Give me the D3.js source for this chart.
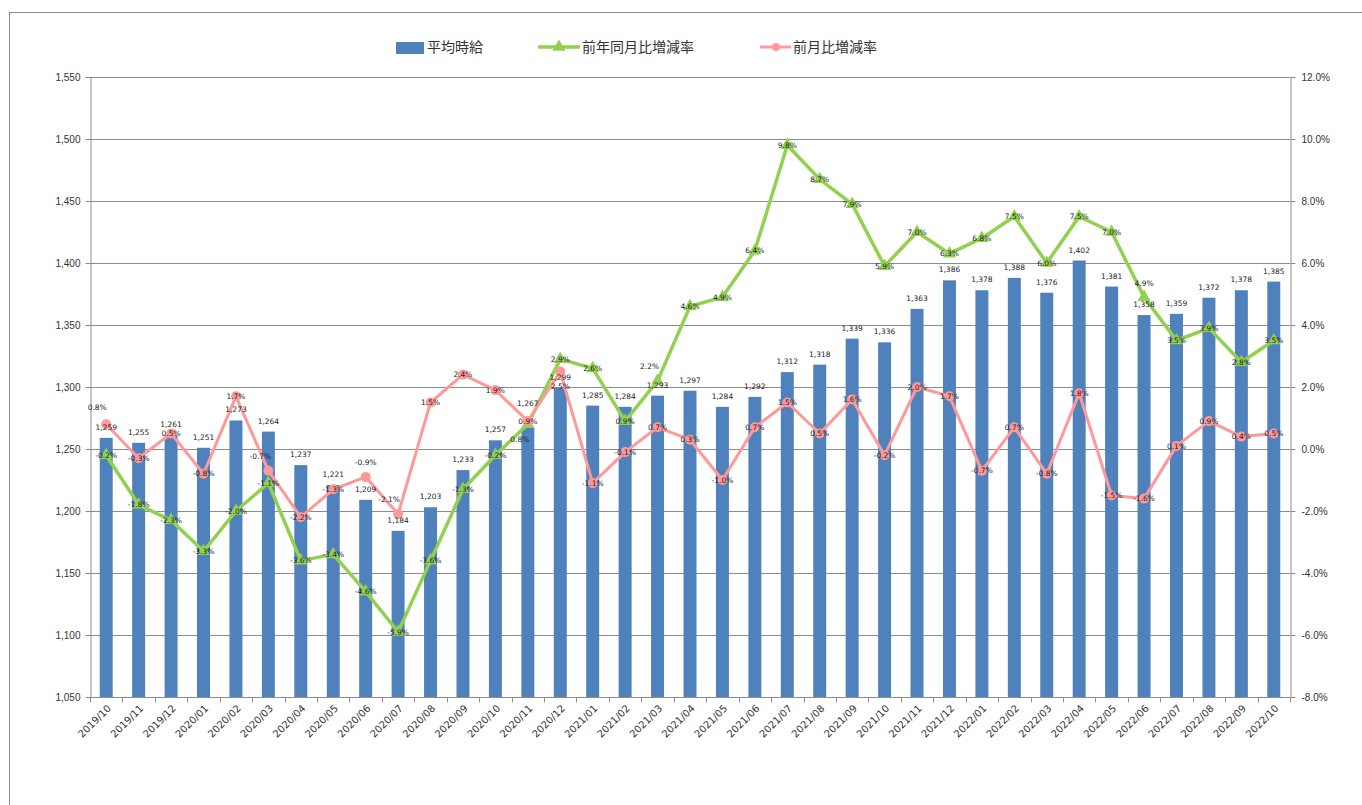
<!DOCTYPE html>
<html>
<head>
<meta charset="utf-8">
<script src="https://cdn.jsdelivr.net/npm/d3@7"></script>
<style>
  body { margin: 0; background: #fff; }
  svg { display: block; font-family: "DejaVu Sans", sans-serif; }
  .axis path, .axis line { stroke: #8c8c8c; }
  .axis text { fill: #333; font-size: 10px; }
</style>
</head>
<body>
<script>
// months (x categories)
var months = ["2019/10", "2019/11", "2019/12", "2020/01", "2020/02", "2020/03", "2020/04", "2020/05", "2020/06",
    "2020/07", "2020/08", "2020/09", "2020/10", "2020/11", "2020/12", "2021/01", "2021/02", "2021/03", "2021/04",
    "2021/05", "2021/06", "2021/07", "2021/08", "2021/09", "2021/10", "2021/11", "2021/12", "2022/01", "2022/02",
    "2022/03", "2022/04", "2022/05", "2022/06", "2022/07", "2022/08", "2022/09", "2022/10"];

// 平均時給 (left axis)
var wage = [1259, 1255, 1261, 1251, 1273, 1264, 1237, 1221, 1209, 1184, 1203, 1233, 1257, 1267, 1299, 1285, 1284,
    1293, 1297, 1284, 1292, 1312, 1318, 1339, 1336, 1363, 1386, 1378, 1388, 1376, 1402, 1381, 1358, 1359, 1372,
    1378, 1385];

// 前年同月比増減率 (%)
var yoy = [-0.2, -1.8, -2.3, -3.3, -2.0, -1.1, -3.6, -3.4, -4.6, -5.9, -3.6, -1.3, -0.2, 0.8, 2.9, 2.6, 0.9, 2.2,
    4.6, 4.9, 6.4, 9.8, 8.7, 7.9, 5.9, 7.0, 6.3, 6.8, 7.5, 6.0, 7.5, 7.0, 4.9, 3.5, 3.9, 2.8, 3.5];

// 前月比増減率 (%)
var mom = [0.8, -0.3, 0.5, -0.8, 1.7, -0.7, -2.2, -1.3, -0.9, -2.1, 1.5, 2.4, 1.9, 0.9, 2.5, -1.1, -0.1, 0.7, 0.3,
    -1.0, 0.7, 1.5, 0.5, 1.6, -0.2, 2.0, 1.7, -0.7, 0.7, -0.8, 1.8, -1.5, -1.6, 0.1, 0.9, 0.4, 0.5];

// tick values
var leftTicks = [1050, 1100, 1150, 1200, 1250, 1300, 1350, 1400, 1450, 1500, 1550];
var rightTicks = [-8, -6, -4, -2, 0, 2, 4, 6, 8, 10, 12];

// labels that were moved by hand in the original (dx, dy)
var wageLabelShift = { "2020/11": [0, -14] };
var yoyLabelShift = { "2020/11": [-8, 15], "2021/03": [-8, -14], "2022/06": [0, -14] };
var momLabelShift = { "2019/10": [-9, -17], "2020/03": [-8, -14], "2020/06": [0, -15], "2020/07": [-9, -15], "2020/12": [0, 15] };

var margin = { top: 77, right: 72, bottom: 108, left: 90 },
    width = 1362 - margin.left - margin.right,
    height = 805 - margin.top - margin.bottom;

var svg = d3.select("body").append("svg")
    .attr("width", 1362)
    .attr("height", 805);

// chart frame (cut off at right and bottom)
svg.append("rect")
    .attr("x", 9.5).attr("y", 12.5)
    .attr("width", 1400).attr("height", 900)
    .attr("fill", "none").attr("stroke", "#8c8c8c");

var g = svg.append("g")
    .attr("transform", "translate(" + margin.left + "," + margin.top + ")");

var x = d3.scaleBand()
    .domain(months)
    .range([0, width])
    .paddingInner(0.6)
    .paddingOuter(0.3);

var y = d3.scaleLinear().domain([1050, 1550]).range([height, 0]);
var y2 = d3.scaleLinear().domain([-8, 12]).range([height, 0]);

var cx = function (d) { return x(d) + x.bandwidth() / 2; };

// gridlines
g.append("g")
    .selectAll("line")
    .data(leftTicks.slice(1))
    .enter().append("line")
    .attr("x1", 0).attr("x2", width)
    .attr("y1", function (d) { return Math.round(y(d)) + 0.5; })
    .attr("y2", function (d) { return Math.round(y(d)) + 0.5; })
    .attr("stroke", "#8c8c8c");

// bars
g.append("g")
    .selectAll("rect")
    .data(months)
    .enter().append("rect")
    .attr("x", function (d) { return x(d); })
    .attr("y", function (d, i) { return y(wage[i]); })
    .attr("width", x.bandwidth())
    .attr("height", function (d, i) { return height - y(wage[i]); })
    .attr("fill", "#4f81bd");

// axes
g.append("g")
    .attr("class", "axis")
    .attr("transform", "translate(0.5,0)")
    .call(d3.axisLeft(y).tickValues(leftTicks).tickSize(5).tickSizeOuter(0).tickPadding(5)
        .tickFormat(d3.format(",")));

g.append("g")
    .attr("class", "axis")
    .attr("transform", "translate(" + (width + 0.5) + ",0)")
    .call(d3.axisRight(y2).tickValues(rightTicks).tickSize(5).tickSizeOuter(0).tickPadding(6)
        .tickFormat(function (d) { return d.toFixed(1) + "%"; }));

// bottom axis with ticks between categories
var xa = g.append("g").attr("class", "axis")
    .attr("transform", "translate(0," + (height + 0.5) + ")");
xa.append("line").attr("x1", 0).attr("x2", width).attr("stroke", "#8c8c8c");
xa.selectAll("line.tk")
    .data(months.concat(["end"]))
    .enter().append("line")
    .attr("class", "tk")
    .attr("x1", function (d, i) { return Math.round(i * x.step()) + 0.5; })
    .attr("x2", function (d, i) { return Math.round(i * x.step()) + 0.5; })
    .attr("y1", 0).attr("y2", 5)
    .attr("stroke", "#8c8c8c");
xa.selectAll("text")
    .data(months)
    .enter().append("text")
    .attr("transform", function (d) { return "translate(" + (cx(d) + 3) + ",9) rotate(-45)"; })
    .attr("text-anchor", "end")
    .attr("dy", "0.35em")
    .text(function (d) { return d; });

// lines
var lineYoy = d3.line()
    .x(function (d, i) { return cx(months[i]); })
    .y(function (d) { return y2(d); });

g.append("path")
    .datum(yoy)
    .attr("d", lineYoy)
    .attr("fill", "none")
    .attr("stroke", "#92d050")
    .attr("stroke-width", 3.5)
    .attr("stroke-linejoin", "round");

g.append("g")
    .selectAll("path")
    .data(yoy)
    .enter().append("path")
    .attr("d", d3.symbol().type(d3.symbolTriangle).size(75))
    .attr("transform", function (d, i) { return "translate(" + cx(months[i]) + "," + y2(d) + ")"; })
    .attr("fill", "#92d050");

g.append("path")
    .datum(mom)
    .attr("d", lineYoy)
    .attr("fill", "none")
    .attr("stroke", "#ff9999")
    .attr("stroke-width", 3)
    .attr("stroke-linejoin", "round");

g.append("g")
    .selectAll("circle")
    .data(mom)
    .enter().append("circle")
    .attr("cx", function (d, i) { return cx(months[i]); })
    .attr("cy", function (d) { return y2(d); })
    .attr("r", 5)
    .attr("fill", "#ff9999");

// data labels
var labels = g.append("g")
    .attr("font-size", 7.5)
    .attr("fill", "#222")
    .attr("text-anchor", "middle");

labels.selectAll("text.w")
    .data(wage)
    .enter().append("text")
    .attr("class", "w")
    .attr("x", function (d, i) { return cx(months[i]); })
    .attr("y", function (d, i) { return y(d) - 8 + (wageLabelShift[months[i]] ? wageLabelShift[months[i]][1] : 0); })
    .text(d3.format(","));

function pctLabels(cls, data, shift) {
    labels.selectAll("text." + cls)
        .data(data)
        .enter().append("text")
        .attr("class", cls)
        .attr("x", function (d, i) { return cx(months[i]) + (shift[months[i]] ? shift[months[i]][0] : 0); })
        .attr("y", function (d, i) { return y2(d) + (shift[months[i]] ? shift[months[i]][1] : 0); })
        .attr("dy", "0.35em")
        .text(function (d) { return d.toFixed(1) + "%"; });
}
pctLabels("yy", yoy, yoyLabelShift);
pctLabels("mm", mom, momLabelShift);

// legend
var legend = svg.append("g")
    .attr("font-family", "'Noto Sans CJK JP', sans-serif")
    .attr("font-size", 14)
    .attr("fill", "#333");

legend.append("rect")
    .attr("x", 396).attr("y", 42).attr("width", 28).attr("height", 12)
    .attr("fill", "#4f81bd");
legend.append("text").attr("x", 427).attr("y", 47).attr("dy", "0.35em").text("平均時給");

legend.append("line")
    .attr("x1", 538).attr("x2", 580).attr("y1", 47).attr("y2", 47)
    .attr("stroke", "#92d050").attr("stroke-width", 3.5);
legend.append("path")
    .attr("d", d3.symbol().type(d3.symbolTriangle).size(75))
    .attr("transform", "translate(559,47)")
    .attr("fill", "#92d050");
legend.append("text").attr("x", 582).attr("y", 47).attr("dy", "0.35em").text("前年同月比増減率");

legend.append("line")
    .attr("x1", 760).attr("x2", 791).attr("y1", 47).attr("y2", 47)
    .attr("stroke", "#ff9999").attr("stroke-width", 3);
legend.append("circle")
    .attr("cx", 776).attr("cy", 47).attr("r", 4)
    .attr("fill", "#ff9999");
legend.append("text").attr("x", 793).attr("y", 47).attr("dy", "0.35em").text("前月比増減率");
</script>
</body>
</html>
